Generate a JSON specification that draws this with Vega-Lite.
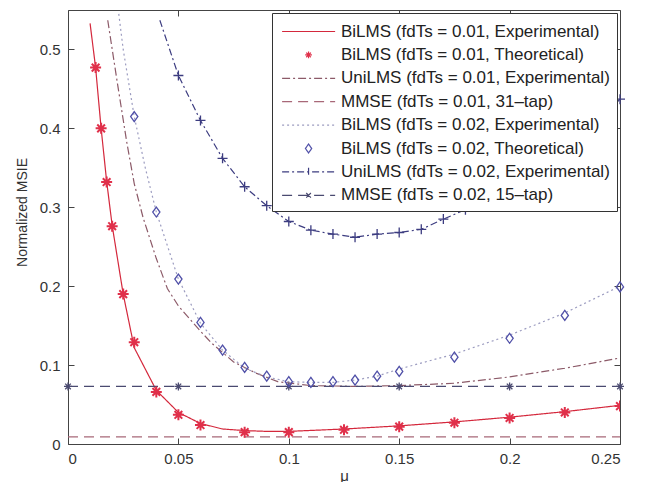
{
  "$schema": "https://vega.github.io/schema/vega-lite/v6.json",
  "width": 552,
  "height": 434,
  "autosize": "none",
  "padding": {"left": 68, "top": 10, "right": 32, "bottom": 38},
  "background": "white",
  "config": {
    "view": {"stroke": "#444", "strokeWidth": 1},
    "axis": {"grid": false, "domain": false, "tickSize": -6, "tickColor": "#444", "labelFont": "Liberation Sans", "labelFontSize": 15, "labelColor": "#333", "titleFont": "Liberation Sans", "titleFontWeight": "normal", "titleColor": "#333", "titleFontSize": 15},
    "legend": {"orient": "top-right", "offset": 3, "padding": 7, "fillColor": "white", "strokeColor": "#333", "labelFont": "Liberation Sans", "labelFontSize": 17, "labelColor": "#222", "labelLimit": 400, "labelOffset": 39, "symbolSize": 441, "symbolStrokeWidth": 1.2, "rowPadding": 3.4, "symbolFillColor": "transparent"}
  },
  "data": {"values": [
    {"s": "BiLMS (fdTs = 0.01, Experimental)", "x": 0.01, "y": 0.533},
    {"s": "BiLMS (fdTs = 0.01, Experimental)", "x": 0.0125, "y": 0.477},
    {"s": "BiLMS (fdTs = 0.01, Experimental)", "x": 0.015, "y": 0.40},
    {"s": "BiLMS (fdTs = 0.01, Experimental)", "x": 0.0175, "y": 0.333},
    {"s": "BiLMS (fdTs = 0.01, Experimental)", "x": 0.02, "y": 0.277},
    {"s": "BiLMS (fdTs = 0.01, Experimental)", "x": 0.025, "y": 0.19},
    {"s": "BiLMS (fdTs = 0.01, Experimental)", "x": 0.03, "y": 0.122},
    {"s": "BiLMS (fdTs = 0.01, Experimental)", "x": 0.04, "y": 0.068},
    {"s": "BiLMS (fdTs = 0.01, Experimental)", "x": 0.05, "y": 0.04},
    {"s": "BiLMS (fdTs = 0.01, Experimental)", "x": 0.06, "y": 0.026},
    {"s": "BiLMS (fdTs = 0.01, Experimental)", "x": 0.07, "y": 0.019},
    {"s": "BiLMS (fdTs = 0.01, Experimental)", "x": 0.08, "y": 0.017},
    {"s": "BiLMS (fdTs = 0.01, Experimental)", "x": 0.09, "y": 0.016},
    {"s": "BiLMS (fdTs = 0.01, Experimental)", "x": 0.1, "y": 0.016},
    {"s": "BiLMS (fdTs = 0.01, Experimental)", "x": 0.125, "y": 0.019},
    {"s": "BiLMS (fdTs = 0.01, Experimental)", "x": 0.15, "y": 0.023},
    {"s": "BiLMS (fdTs = 0.01, Experimental)", "x": 0.175, "y": 0.028},
    {"s": "BiLMS (fdTs = 0.01, Experimental)", "x": 0.2, "y": 0.034},
    {"s": "BiLMS (fdTs = 0.01, Experimental)", "x": 0.225, "y": 0.041},
    {"s": "BiLMS (fdTs = 0.01, Experimental)", "x": 0.25, "y": 0.049},

    {"s": "BiLMS (fdTs = 0.01, Theoretical)", "x": 0.0125, "y": 0.477},
    {"s": "BiLMS (fdTs = 0.01, Theoretical)", "x": 0.015, "y": 0.40},
    {"s": "BiLMS (fdTs = 0.01, Theoretical)", "x": 0.0175, "y": 0.332},
    {"s": "BiLMS (fdTs = 0.01, Theoretical)", "x": 0.02, "y": 0.276},
    {"s": "BiLMS (fdTs = 0.01, Theoretical)", "x": 0.025, "y": 0.19},
    {"s": "BiLMS (fdTs = 0.01, Theoretical)", "x": 0.03, "y": 0.129},
    {"s": "BiLMS (fdTs = 0.01, Theoretical)", "x": 0.04, "y": 0.066},
    {"s": "BiLMS (fdTs = 0.01, Theoretical)", "x": 0.05, "y": 0.037},
    {"s": "BiLMS (fdTs = 0.01, Theoretical)", "x": 0.06, "y": 0.024},
    {"s": "BiLMS (fdTs = 0.01, Theoretical)", "x": 0.08, "y": 0.015},
    {"s": "BiLMS (fdTs = 0.01, Theoretical)", "x": 0.1, "y": 0.015},
    {"s": "BiLMS (fdTs = 0.01, Theoretical)", "x": 0.125, "y": 0.018},
    {"s": "BiLMS (fdTs = 0.01, Theoretical)", "x": 0.15, "y": 0.022},
    {"s": "BiLMS (fdTs = 0.01, Theoretical)", "x": 0.175, "y": 0.027},
    {"s": "BiLMS (fdTs = 0.01, Theoretical)", "x": 0.2, "y": 0.033},
    {"s": "BiLMS (fdTs = 0.01, Theoretical)", "x": 0.225, "y": 0.040},
    {"s": "BiLMS (fdTs = 0.01, Theoretical)", "x": 0.25, "y": 0.048},

    {"s": "UniLMS (fdTs = 0.01, Experimental)", "x": 0.018, "y": 0.537},
    {"s": "UniLMS (fdTs = 0.01, Experimental)", "x": 0.0225, "y": 0.455},
    {"s": "UniLMS (fdTs = 0.01, Experimental)", "x": 0.0267, "y": 0.381},
    {"s": "UniLMS (fdTs = 0.01, Experimental)", "x": 0.03, "y": 0.33},
    {"s": "UniLMS (fdTs = 0.01, Experimental)", "x": 0.034, "y": 0.287},
    {"s": "UniLMS (fdTs = 0.01, Experimental)", "x": 0.04, "y": 0.235},
    {"s": "UniLMS (fdTs = 0.01, Experimental)", "x": 0.045, "y": 0.197},
    {"s": "UniLMS (fdTs = 0.01, Experimental)", "x": 0.05, "y": 0.175},
    {"s": "UniLMS (fdTs = 0.01, Experimental)", "x": 0.06, "y": 0.143},
    {"s": "UniLMS (fdTs = 0.01, Experimental)", "x": 0.065, "y": 0.128},
    {"s": "UniLMS (fdTs = 0.01, Experimental)", "x": 0.075, "y": 0.104},
    {"s": "UniLMS (fdTs = 0.01, Experimental)", "x": 0.085, "y": 0.09},
    {"s": "UniLMS (fdTs = 0.01, Experimental)", "x": 0.095, "y": 0.079},
    {"s": "UniLMS (fdTs = 0.01, Experimental)", "x": 0.11, "y": 0.074},
    {"s": "UniLMS (fdTs = 0.01, Experimental)", "x": 0.13, "y": 0.073},
    {"s": "UniLMS (fdTs = 0.01, Experimental)", "x": 0.15, "y": 0.074},
    {"s": "UniLMS (fdTs = 0.01, Experimental)", "x": 0.175, "y": 0.077},
    {"s": "UniLMS (fdTs = 0.01, Experimental)", "x": 0.2, "y": 0.085},
    {"s": "UniLMS (fdTs = 0.01, Experimental)", "x": 0.225, "y": 0.096},
    {"s": "UniLMS (fdTs = 0.01, Experimental)", "x": 0.25, "y": 0.109},

    {"s": "MMSE (fdTs = 0.01, 31–tap)", "x": 0, "y": 0.009},
    {"s": "MMSE (fdTs = 0.01, 31–tap)", "x": 0.25, "y": 0.009},

    {"s": "BiLMS (fdTs = 0.02, Experimental)", "x": 0.023, "y": 0.545},
    {"s": "BiLMS (fdTs = 0.02, Experimental)", "x": 0.025, "y": 0.5},
    {"s": "BiLMS (fdTs = 0.02, Experimental)", "x": 0.03, "y": 0.415},
    {"s": "BiLMS (fdTs = 0.02, Experimental)", "x": 0.035, "y": 0.35},
    {"s": "BiLMS (fdTs = 0.02, Experimental)", "x": 0.04, "y": 0.294},
    {"s": "BiLMS (fdTs = 0.02, Experimental)", "x": 0.05, "y": 0.209},
    {"s": "BiLMS (fdTs = 0.02, Experimental)", "x": 0.06, "y": 0.153},
    {"s": "BiLMS (fdTs = 0.02, Experimental)", "x": 0.07, "y": 0.119},
    {"s": "BiLMS (fdTs = 0.02, Experimental)", "x": 0.08, "y": 0.096},
    {"s": "BiLMS (fdTs = 0.02, Experimental)", "x": 0.09, "y": 0.085},
    {"s": "BiLMS (fdTs = 0.02, Experimental)", "x": 0.1, "y": 0.079},
    {"s": "BiLMS (fdTs = 0.02, Experimental)", "x": 0.11, "y": 0.078},
    {"s": "BiLMS (fdTs = 0.02, Experimental)", "x": 0.12, "y": 0.078},
    {"s": "BiLMS (fdTs = 0.02, Experimental)", "x": 0.13, "y": 0.081},
    {"s": "BiLMS (fdTs = 0.02, Experimental)", "x": 0.14, "y": 0.086},
    {"s": "BiLMS (fdTs = 0.02, Experimental)", "x": 0.15, "y": 0.095},
    {"s": "BiLMS (fdTs = 0.02, Experimental)", "x": 0.175, "y": 0.114},
    {"s": "BiLMS (fdTs = 0.02, Experimental)", "x": 0.2, "y": 0.138},
    {"s": "BiLMS (fdTs = 0.02, Experimental)", "x": 0.225, "y": 0.166},
    {"s": "BiLMS (fdTs = 0.02, Experimental)", "x": 0.25, "y": 0.2},

    {"s": "BiLMS (fdTs = 0.02, Theoretical)", "x": 0.03, "y": 0.415},
    {"s": "BiLMS (fdTs = 0.02, Theoretical)", "x": 0.04, "y": 0.294},
    {"s": "BiLMS (fdTs = 0.02, Theoretical)", "x": 0.05, "y": 0.209},
    {"s": "BiLMS (fdTs = 0.02, Theoretical)", "x": 0.06, "y": 0.154},
    {"s": "BiLMS (fdTs = 0.02, Theoretical)", "x": 0.07, "y": 0.119},
    {"s": "BiLMS (fdTs = 0.02, Theoretical)", "x": 0.08, "y": 0.097},
    {"s": "BiLMS (fdTs = 0.02, Theoretical)", "x": 0.09, "y": 0.086},
    {"s": "BiLMS (fdTs = 0.02, Theoretical)", "x": 0.1, "y": 0.079},
    {"s": "BiLMS (fdTs = 0.02, Theoretical)", "x": 0.11, "y": 0.078},
    {"s": "BiLMS (fdTs = 0.02, Theoretical)", "x": 0.12, "y": 0.079},
    {"s": "BiLMS (fdTs = 0.02, Theoretical)", "x": 0.13, "y": 0.081},
    {"s": "BiLMS (fdTs = 0.02, Theoretical)", "x": 0.14, "y": 0.086},
    {"s": "BiLMS (fdTs = 0.02, Theoretical)", "x": 0.15, "y": 0.092},
    {"s": "BiLMS (fdTs = 0.02, Theoretical)", "x": 0.175, "y": 0.11},
    {"s": "BiLMS (fdTs = 0.02, Theoretical)", "x": 0.2, "y": 0.134},
    {"s": "BiLMS (fdTs = 0.02, Theoretical)", "x": 0.225, "y": 0.163},
    {"s": "BiLMS (fdTs = 0.02, Theoretical)", "x": 0.25, "y": 0.199},

    {"s": "UniLMS (fdTs = 0.02, Experimental)", "x": 0.0416, "y": 0.537},
    {"s": "UniLMS (fdTs = 0.02, Experimental)", "x": 0.05, "y": 0.467},
    {"s": "UniLMS (fdTs = 0.02, Experimental)", "x": 0.06, "y": 0.41},
    {"s": "UniLMS (fdTs = 0.02, Experimental)", "x": 0.07, "y": 0.362},
    {"s": "UniLMS (fdTs = 0.02, Experimental)", "x": 0.08, "y": 0.326},
    {"s": "UniLMS (fdTs = 0.02, Experimental)", "x": 0.09, "y": 0.302},
    {"s": "UniLMS (fdTs = 0.02, Experimental)", "x": 0.1, "y": 0.282},
    {"s": "UniLMS (fdTs = 0.02, Experimental)", "x": 0.11, "y": 0.271},
    {"s": "UniLMS (fdTs = 0.02, Experimental)", "x": 0.12, "y": 0.266},
    {"s": "UniLMS (fdTs = 0.02, Experimental)", "x": 0.13, "y": 0.262},
    {"s": "UniLMS (fdTs = 0.02, Experimental)", "x": 0.14, "y": 0.266},
    {"s": "UniLMS (fdTs = 0.02, Experimental)", "x": 0.15, "y": 0.268},
    {"s": "UniLMS (fdTs = 0.02, Experimental)", "x": 0.16, "y": 0.272},
    {"s": "UniLMS (fdTs = 0.02, Experimental)", "x": 0.17, "y": 0.285},
    {"s": "UniLMS (fdTs = 0.02, Experimental)", "x": 0.18, "y": 0.297},
    {"s": "UniLMS (fdTs = 0.02, Experimental)", "x": 0.19, "y": 0.311},
    {"s": "UniLMS (fdTs = 0.02, Experimental)", "x": 0.2, "y": 0.327},
    {"s": "UniLMS (fdTs = 0.02, Experimental)", "x": 0.21, "y": 0.344},
    {"s": "UniLMS (fdTs = 0.02, Experimental)", "x": 0.22, "y": 0.363},
    {"s": "UniLMS (fdTs = 0.02, Experimental)", "x": 0.23, "y": 0.384},
    {"s": "UniLMS (fdTs = 0.02, Experimental)", "x": 0.24, "y": 0.408},
    {"s": "UniLMS (fdTs = 0.02, Experimental)", "x": 0.25, "y": 0.437},

    {"s": "MMSE (fdTs = 0.02, 15–tap)", "x": 0, "y": 0.073},
    {"s": "MMSE (fdTs = 0.02, 15–tap)", "x": 0.05, "y": 0.073},
    {"s": "MMSE (fdTs = 0.02, 15–tap)", "x": 0.1, "y": 0.073},
    {"s": "MMSE (fdTs = 0.02, 15–tap)", "x": 0.15, "y": 0.073},
    {"s": "MMSE (fdTs = 0.02, 15–tap)", "x": 0.2, "y": 0.073},
    {"s": "MMSE (fdTs = 0.02, 15–tap)", "x": 0.25, "y": 0.073}
  ]},
  "layer": [
    {
      "transform": [{"filter": {"field": "s", "oneOf": ["BiLMS (fdTs = 0.01, Experimental)", "UniLMS (fdTs = 0.01, Experimental)", "MMSE (fdTs = 0.01, 31–tap)", "BiLMS (fdTs = 0.02, Experimental)", "UniLMS (fdTs = 0.02, Experimental)", "MMSE (fdTs = 0.02, 15–tap)"]}}],
      "mark": {"type": "line", "strokeWidth": 1.2, "clip": true},
      "encoding": {
        "x": {"field": "x", "type": "quantitative", "scale": {"domain": [0, 0.25], "nice": false}, "axis": {"orient": "bottom", "values": [0, 0.05, 0.1, 0.15, 0.2, 0.25], "format": "~g", "title": "μ", "labelPadding": 13, "titlePadding": 2}},
        "y": {"field": "y", "type": "quantitative", "scale": {"domain": [0, 0.55], "nice": false}, "axis": {"orient": "left", "values": [0, 0.1, 0.2, 0.3, 0.4, 0.5], "format": "~g", "title": "Normalized MSIE", "labelPadding": 14, "titlePadding": 10, "titleY": 202, "titleFontSize": 14}},
        "color": {"field": "s", "type": "nominal", "title": null, "scale": {"domain": ["BiLMS (fdTs = 0.01, Experimental)", "BiLMS (fdTs = 0.01, Theoretical)", "UniLMS (fdTs = 0.01, Experimental)", "MMSE (fdTs = 0.01, 31–tap)", "BiLMS (fdTs = 0.02, Experimental)", "BiLMS (fdTs = 0.02, Theoretical)", "UniLMS (fdTs = 0.02, Experimental)", "MMSE (fdTs = 0.02, 15–tap)"], "range": ["#d4283c", "#e0304a", "#8c5a68", "#a86878", "#9c9cc0", "#5050a8", "#3c3c80", "#4a4a70"]}},
        "strokeDash": {"field": "s", "type": "nominal", "title": null, "scale": {"domain": ["BiLMS (fdTs = 0.01, Experimental)", "BiLMS (fdTs = 0.01, Theoretical)", "UniLMS (fdTs = 0.01, Experimental)", "MMSE (fdTs = 0.01, 31–tap)", "BiLMS (fdTs = 0.02, Experimental)", "BiLMS (fdTs = 0.02, Theoretical)", "UniLMS (fdTs = 0.02, Experimental)", "MMSE (fdTs = 0.02, 15–tap)"], "range": [[1, 0], [1, 0], [8, 3, 2, 3], [10, 6], [2, 3], [1, 0], [7, 3, 2, 3], [10, 6]]}}
      }
    },
    {
      "transform": [{"filter": {"field": "s", "equal": "BiLMS (fdTs = 0.01, Theoretical)"}}],
      "mark": {"type": "point", "shape": "M0,-1V1M-1,0H1M-0.7,-0.7L0.7,0.7M-0.7,0.7L0.7,-0.7", "size": 121, "strokeWidth": 2, "filled": false, "opacity": 1, "clip": true},
      "encoding": {
        "x": {"field": "x", "type": "quantitative", "axis": null},
        "y": {"field": "y", "type": "quantitative", "axis": null},
        "color": {"field": "s", "type": "nominal", "title": null}
      }
    },
    {
      "transform": [{"filter": {"field": "s", "equal": "MMSE (fdTs = 0.02, 15–tap)"}}],
      "mark": {"type": "point", "shape": "M0,-1V1M-1,0H1M-0.7,-0.7L0.7,0.7M-0.7,0.7L0.7,-0.7", "size": 64, "strokeWidth": 1.3, "filled": false, "opacity": 1, "clip": false},
      "encoding": {
        "x": {"field": "x", "type": "quantitative", "axis": null},
        "y": {"field": "y", "type": "quantitative", "axis": null},
        "color": {"field": "s", "type": "nominal", "title": null}
      }
    },
    {
      "transform": [{"filter": {"field": "s", "equal": "BiLMS (fdTs = 0.02, Theoretical)"}}],
      "mark": {"type": "point", "shape": "M0,-1L0.72,0L0,1L-0.72,0Z", "size": 100, "strokeWidth": 1.3, "filled": false, "opacity": 1},
      "encoding": {
        "x": {"field": "x", "type": "quantitative", "axis": null},
        "y": {"field": "y", "type": "quantitative", "axis": null},
        "color": {"field": "s", "type": "nominal", "title": null}
      }
    },
    {
      "transform": [{"filter": {"field": "s", "equal": "UniLMS (fdTs = 0.02, Experimental)"}}, {"filter": "datum.x >= 0.05"}],
      "mark": {"type": "point", "shape": "M-1,0H1M0,-1V1", "size": 100, "strokeWidth": 1.3, "filled": false, "opacity": 1},
      "encoding": {
        "x": {"field": "x", "type": "quantitative", "axis": null},
        "y": {"field": "y", "type": "quantitative", "axis": null},
        "color": {"field": "s", "type": "nominal", "title": null}
      }
    },
    {
      "transform": [{"filter": "datum.x < 0"}],
      "mark": {"type": "point", "filled": false, "opacity": 1},
      "encoding": {
        "x": {"field": "x", "type": "quantitative", "axis": {"orient": "top", "values": [0, 0.05, 0.1, 0.15, 0.2, 0.25], "labels": false, "title": null}},
        "y": {"field": "y", "type": "quantitative", "axis": {"orient": "right", "values": [0, 0.1, 0.2, 0.3, 0.4, 0.5], "labels": false, "title": null}},
        "color": {"field": "s", "type": "nominal", "title": null},
        "shape": {"field": "s", "type": "nominal", "title": null, "scale": {"domain": ["BiLMS (fdTs = 0.01, Experimental)", "BiLMS (fdTs = 0.01, Theoretical)", "UniLMS (fdTs = 0.01, Experimental)", "MMSE (fdTs = 0.01, 31–tap)", "BiLMS (fdTs = 0.02, Experimental)", "BiLMS (fdTs = 0.02, Theoretical)", "UniLMS (fdTs = 0.02, Experimental)", "MMSE (fdTs = 0.02, 15–tap)"], "range": ["M-0.8,0H4.25", "M1.72,-0.32V0.32M1.4,0H2.04M1.5,-0.22L1.94,0.22M1.5,0.22L1.94,-0.22", "M-0.8,0H4.25", "M-0.8,0H4.25", "M-0.8,0H4.25", "M1.72,-0.42L2.02,0L1.72,0.42L1.42,0Z", "M-0.8,0H4.25M1.72,-0.4V0.4", "M-0.8,0H4.25M1.5,-0.22L1.94,0.22M1.5,0.22L1.94,-0.22"]}}
      }
    }
  ],
  "resolve": {"axis": {"x": "independent", "y": "independent"}}
}
